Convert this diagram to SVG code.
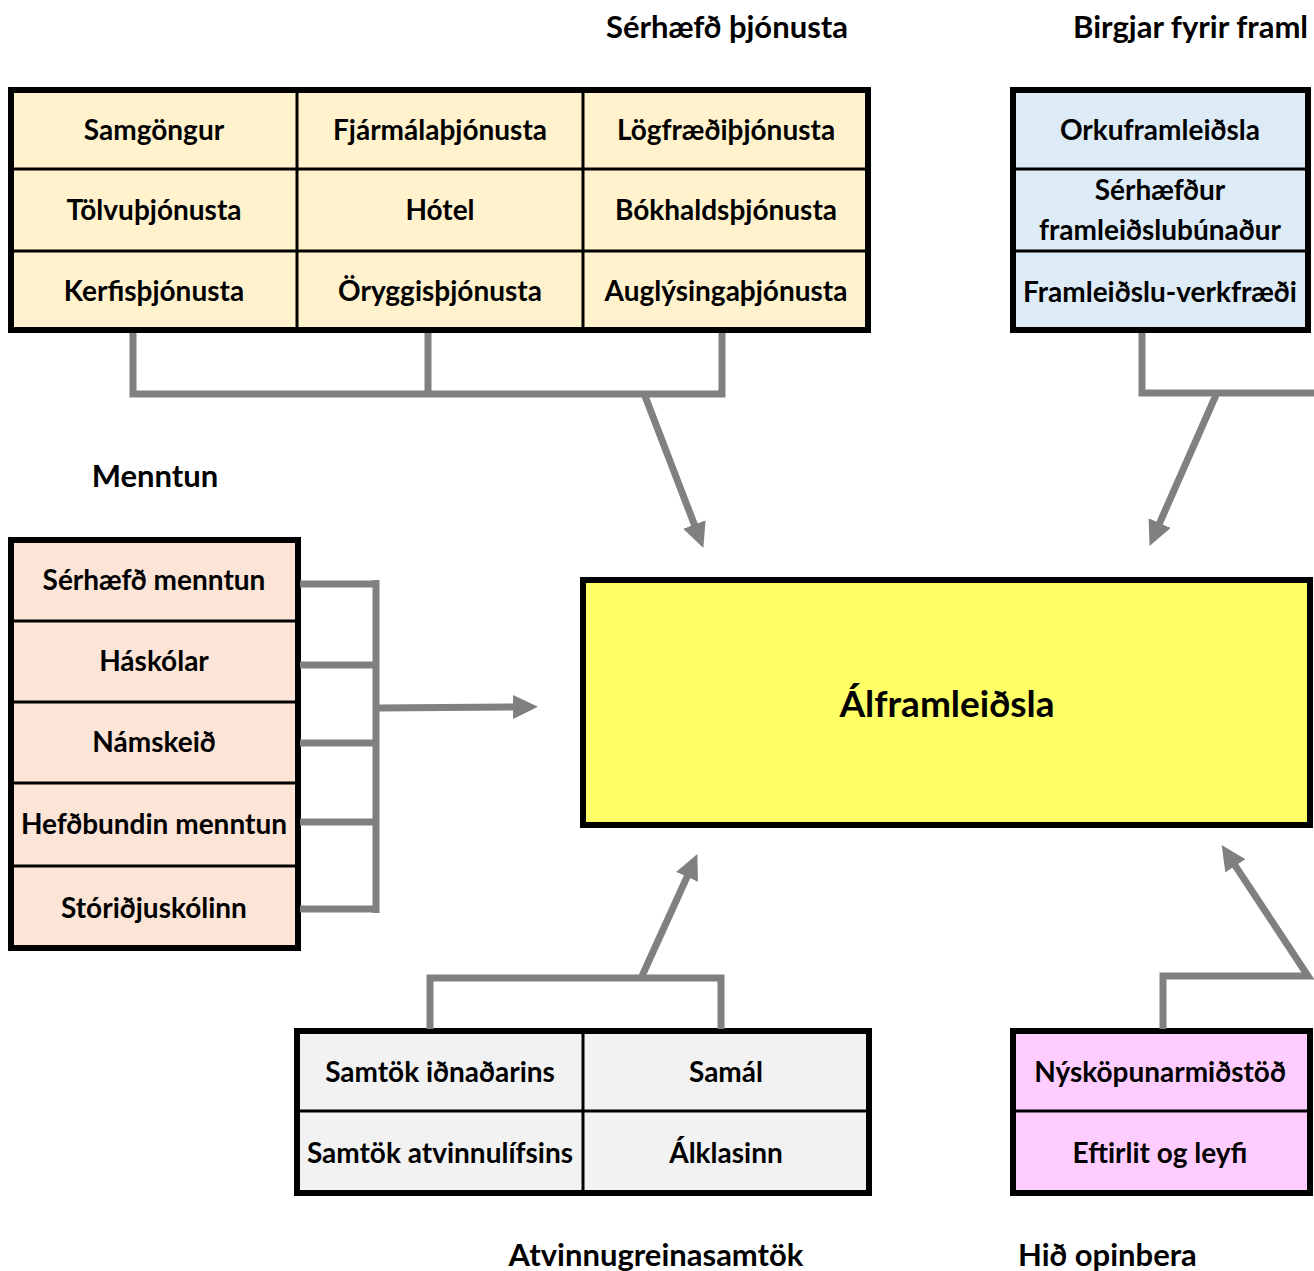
<svg xmlns="http://www.w3.org/2000/svg" width="1314" height="1271" viewBox="0 0 1314 1271">
<defs>
<style>
text{font-family:Lato,"Liberation Sans",sans-serif;font-weight:bold;fill:#000;text-anchor:middle;dominant-baseline:central}
.t{font-size:28px}
.h{font-size:31px}
.big{font-size:37px}
.outer{fill:none;stroke:#000;stroke-width:6}
.inner{stroke:#000;stroke-width:3;fill:none}
.conn{fill:none;stroke:#808080;stroke-width:7;stroke-linejoin:miter}
.arr{fill:none;stroke:#808080;stroke-width:7;marker-end:url(#ah)}
.y1{fill:#fff2cc}.b1{fill:#ddebf7}.p1{fill:#fce4d6}.g1{fill:#f2f2f2}.m1{fill:#ffccff}.yc{fill:#ffff66}
</style>
<marker id="ah" markerUnits="userSpaceOnUse" markerWidth="26" markerHeight="24" refX="4" refY="12" orient="auto" viewBox="0 0 26 24">
<path d="M0,0 L25,12 L0,24 z" fill="#808080"/>
</marker>
</defs>
<rect width="1314" height="1271" fill="#fff"/>

<g id="titles">
<text class="h" x="727" y="26">Sérhæfð þjónusta</text>
<text class="h" x="1073" y="26" style="text-anchor:start">Birgjar fyrir framl</text>
<text class="h" x="155" y="475">Menntun</text>
<text class="h" x="656" y="1254">Atvinnugreinasamtök</text>
<text class="h" x="1018" y="1254" style="text-anchor:start">Hið opinbera</text>
</g>

<g id="serhaefd-thjonusta">
<rect class="y1" x="11" y="90" width="857" height="240"/>
<g id="samgongur"><text class="t" x="154" y="129">Samgöngur</text></g>
<g id="fjarmala"><text class="t" x="440" y="129">Fjármálaþjónusta</text></g>
<g id="logfraedi"><text class="t" x="726" y="129">Lögfræðiþjónusta</text></g>
<g id="tolvu"><text class="t" x="154" y="209">Tölvuþjónusta</text></g>
<g id="hotel"><text class="t" x="440" y="209">Hótel</text></g>
<g id="bokhald"><text class="t" x="726" y="209">Bókhaldsþjónusta</text></g>
<g id="kerfis"><text class="t" x="154" y="290">Kerfisþjónusta</text></g>
<g id="oryggis"><text class="t" x="440" y="290">Öryggisþjónusta</text></g>
<g id="auglysinga"><text class="t" x="726" y="290">Auglýsingaþjónusta</text></g>
<path class="inner" d="M11,169 H868 M11,251 H868 M297,90 V330 M583,90 V330"/>
<rect class="outer" x="11" y="90" width="857" height="240"/>
</g>

<g id="birgjar">
<rect class="b1" x="1013" y="90" width="295" height="240"/>
<g id="orku"><text class="t" x="1160" y="129">Orkuframleiðsla</text></g>
<g id="serhaefdur"><text class="t" x="1160" y="189">Sérhæfður</text><text class="t" x="1160" y="229">framleiðslubúnaður</text></g>
<g id="framleidslu-verkfraedi"><text class="t" x="1160" y="291">Framleiðslu-verkfræði</text></g>
<path class="inner" d="M1013,169 H1308 M1013,251 H1308"/>
<rect class="outer" x="1013" y="90" width="295" height="240"/>
</g>

<g id="menntun">
<rect class="p1" x="11" y="540" width="287" height="408"/>
<g id="serhaefd-menntun"><text class="t" x="154" y="579">Sérhæfð menntun</text></g>
<g id="haskolar"><text class="t" x="154" y="660">Háskólar</text></g>
<g id="namskeid"><text class="t" x="154" y="741">Námskeið</text></g>
<g id="hefdbundin"><text class="t" x="154" y="823">Hefðbundin menntun</text></g>
<g id="storidju"><text class="t" x="154" y="907">Stóriðjuskólinn</text></g>
<path class="inner" d="M11,621 H298 M11,702 H298 M11,783 H298 M11,866 H298"/>
<rect class="outer" x="11" y="540" width="287" height="408"/>
</g>

<g id="alframleidsla">
<rect class="yc" x="583" y="580" width="727" height="245"/>
<rect class="outer" x="583" y="580" width="727" height="245"/>
<text class="big" x="947" y="702">Álframleiðsla</text>
</g>

<g id="atvinnugreinasamtok">
<rect class="g1" x="297" y="1031" width="572" height="162"/>
<g id="si"><text class="t" x="440" y="1071">Samtök iðnaðarins</text></g>
<g id="samal"><text class="t" x="726" y="1071">Samál</text></g>
<g id="sa"><text class="t" x="440" y="1152">Samtök atvinnulífsins</text></g>
<g id="alklasinn"><text class="t" x="726" y="1152">Álklasinn</text></g>
<path class="inner" d="M297,1111 H869 M583,1031 V1193"/>
<rect class="outer" x="297" y="1031" width="572" height="162"/>
</g>

<g id="hid-opinbera">
<rect class="m1" x="1013" y="1031" width="297" height="162"/>
<g id="nyskopun"><text class="t" x="1160" y="1071">Nýsköpunarmiðstöð</text></g>
<g id="eftirlit"><text class="t" x="1160" y="1152">Eftirlit og leyfi</text></g>
<path class="inner" d="M1013,1111 H1310"/>
<rect class="outer" x="1013" y="1031" width="297" height="162"/>
</g>

<g id="connectors">
<path class="conn" d="M133,333 V394 H722 V333 M428,333 V394"/>
<path class="arr" d="M645,396 L695.8,528.3"/>
<path class="conn" d="M1142,333 V393 H1320"/>
<path class="arr" d="M1216,395 L1158,526.7"/>
<path class="conn" d="M300,584 H376 M300,665 H376 M300,743 H376 M300,822 H376 M300,909 H376 M376,580 V913"/>
<path class="arr" d="M378,708 L517,707"/>
<path class="conn" d="M430,1029 V978 H721 V1029"/>
<path class="arr" d="M642,976 L688.7,873.2"/>
<path class="arr" d="M1163,1029 V976 H1308 L1233.2,862.6"/>
</g>
</svg>
